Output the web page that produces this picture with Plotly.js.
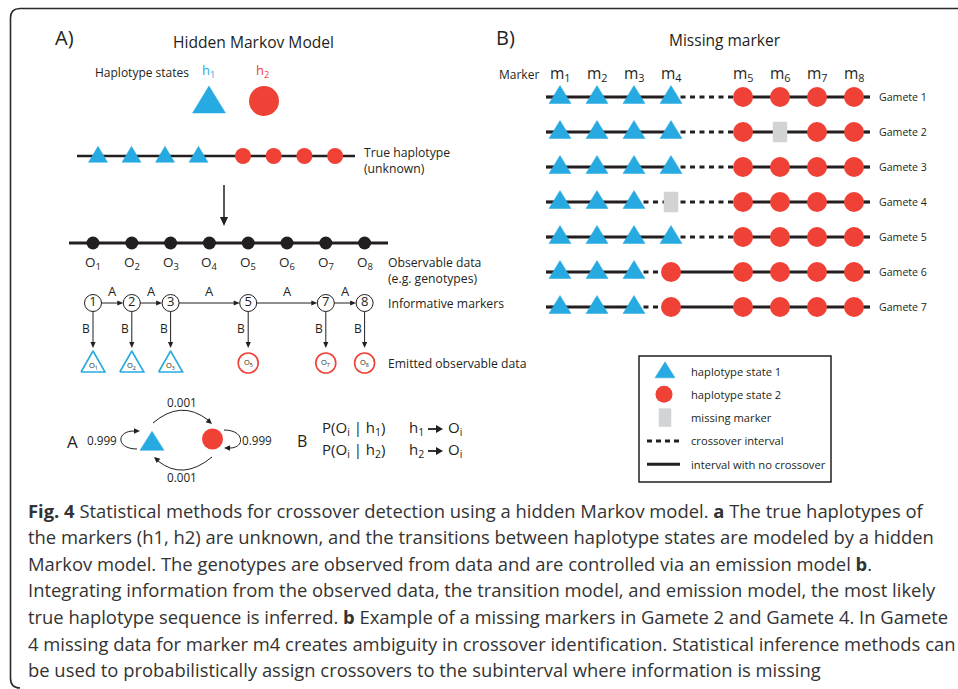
<!DOCTYPE html>
<html><head><meta charset="utf-8">
<script src="https://cdn.plot.ly/plotly-3.0.1.min.js"></script>
<style>html,body{margin:0;padding:0;background:#fff;overflow:hidden}#chart{width:958px;height:689px}</style>
</head><body><div id="chart"></div>
<script>
// ===================== DATA =====================
const hapStateLabels = ['h<sub>1</sub>', 'h<sub>2</sub>'];
const trueHaplotype = [1, 1, 1, 1, 2, 2, 2, 2];
const observedLabels = ['O<sub>1</sub>', 'O<sub>2</sub>', 'O<sub>3</sub>', 'O<sub>4</sub>', 'O<sub>5</sub>', 'O<sub>6</sub>', 'O<sub>7</sub>', 'O<sub>8</sub>'];
const informativeMarkers = [1, 2, 3, 5, 7, 8];
const emittedStates = [1, 1, 1, 2, 2, 2];
const transitionLabel = 'A';
const emissionLabel = 'B';
const pStay = '0.999';
const pSwitch = '0.001';
const emissionProbs = ['P(O<sub>i</sub> | h<sub>1</sub>)', 'P(O<sub>i</sub> | h<sub>2</sub>)'];
const emissionFrom = ['h<sub>1</sub>', 'h<sub>2</sub>'];
const emissionTo = 'O<sub>i</sub>';
const markerLabels = ['m<sub>1</sub>', 'm<sub>2</sub>', 'm<sub>3</sub>', 'm<sub>4</sub>', 'm<sub>5</sub>', 'm<sub>6</sub>', 'm<sub>7</sub>', 'm<sub>8</sub>'];
const gameteLabels = ['Gamete 1', 'Gamete 2', 'Gamete 3', 'Gamete 4', 'Gamete 5', 'Gamete 6', 'Gamete 7'];
// 1 = haplotype state 1, 2 = haplotype state 2, 0 = missing marker
const gamete1 = [1, 1, 1, 1, 2, 2, 2, 2];
const gamete2 = [1, 1, 1, 1, 2, 0, 2, 2];
const gamete3 = [1, 1, 1, 1, 2, 2, 2, 2];
const gamete4 = [1, 1, 1, 0, 2, 2, 2, 2];
const gamete5 = [1, 1, 1, 1, 2, 2, 2, 2];
const gamete6 = [1, 1, 1, 2, 2, 2, 2, 2];
const gamete7 = [1, 1, 1, 2, 2, 2, 2, 2];
const legendLabels = ['haplotype state 1', 'haplotype state 2', 'missing marker', 'crossover interval', 'interval with no crossover'];
const captionLines = [
  '<b>Fig. 4</b> Statistical methods for crossover detection using a hidden Markov model. <b>a</b> The true haplotypes of',
  'the markers (h1, h2) are unknown, and the transitions between haplotype states are modeled by a hidden',
  'Markov model. The genotypes are observed from data and are controlled via an emission model <b>b</b>.',
  'Integrating information from the observed data, the transition model, and emission model, the most likely',
  'true haplotype sequence is inferred. <b>b</b> Example of a missing markers in Gamete 2 and Gamete 4. In Gamete',
  '4 missing data for marker m4 creates ambiguity in crossover identification. Statistical inference methods can',
  'be used to probabilistically assign crossovers to the subinterval where information is missing'
];

// ===================== STYLE / LAYOUT =====================
const BLUE = '#27AAE1', RED = '#EF4136', GREY = '#D1D3D4', INK = '#231F20', CAP = '#333333';
const FONT = 'Open Sans, sans-serif';
const gametes = [gamete1, gamete2, gamete3, gamete4, gamete5, gamete6, gamete7];

const traces = [];
const shapes = [];
const annotations = [];

function txt(x, y, text, size, o) {
  o = o || {};
  annotations.push({
    x: x, y: y, xref: 'x', yref: 'y', text: text, showarrow: false,
    xanchor: o.xa || 'center', yanchor: o.ya || 'middle', align: o.align || 'left',
    font: {family: o.family || FONT, size: size, color: o.color || INK}
  });
}
function arrowHead(tx, ty, dx, dy, len, hw) {
  const L = Math.hypot(dx, dy); dx /= L; dy /= L;
  const bx = tx - dx * len, by = ty - dy * len;
  shapes.push({type: 'path', xref: 'x', yref: 'y', fillcolor: INK, line: {width: 0},
    path: `M${tx},${ty} L${bx - dy * hw},${by + dx * hw} L${bx + dy * hw},${by - dx * hw} Z`});
}
function arrow(x0, y0, x1, y1, w, len, hw) {
  len = len || 6; hw = hw || 2.8;
  const L = Math.hypot(x1 - x0, y1 - y0), dx = (x1 - x0) / L, dy = (y1 - y0) / L;
  shapes.push({type: 'line', xref: 'x', yref: 'y', x0: x0, y0: y0, x1: x1 - dx * (len - 1), y1: y1 - dy * (len - 1),
    line: {color: INK, width: w || 1}});
  arrowHead(x1, y1, dx, dy, len, hw);
}
// polygon builders (return arrays with null separators)
function triPts(cx, cy, w, h, xs, ys) {
  xs.push(cx - w / 2, cx + w / 2, cx, cx - w / 2, null);
  ys.push(cy + h / 3, cy + h / 3, cy - 2 * h / 3, cy + h / 3, null);
}
function rectPts(cx, cy, w, h, xs, ys) {
  xs.push(cx - w / 2, cx + w / 2, cx + w / 2, cx - w / 2, cx - w / 2, null);
  ys.push(cy - h / 2, cy - h / 2, cy + h / 2, cy + h / 2, cy - h / 2, null);
}
function polyTrace(xs, ys, fill, line, lw) {
  traces.push({x: xs, y: ys, mode: 'lines', fill: fill ? 'toself' : 'none', fillcolor: fill || 'rgba(0,0,0,0)',
    line: {color: line || fill, width: lw || 0.5}, hoverinfo: 'skip', connectgaps: false});
}
function circTrace(xs, ys, size, color, lineColor, lw) {
  traces.push({x: xs, y: ys, mode: 'markers', hoverinfo: 'skip',
    marker: {symbol: 'circle', size: size, color: color, line: {color: lineColor || color, width: lw || 0}}});
}
function lineTrace(xs, ys, w, dash) {
  traces.push({x: xs, y: ys, mode: 'lines', hoverinfo: 'skip', connectgaps: false,
    line: {color: INK, width: w, dash: dash || 'solid'}});
}

// ---------------- Panel A ----------------
txt(64, 37, 'A)', 20);
txt(253, 42, 'Hidden Markov Model', 15.6);
txt(93, 72, 'Haplotype states', 12, {xa: 'left'});
txt(208, 71, hapStateLabels[0], 13, {color: BLUE});
txt(262, 71, hapStateLabels[1], 13, {color: RED});
{ const xs = [], ys = []; triPts(209, 104, 33, 27, xs, ys); polyTrace(xs, ys, BLUE); }
circTrace([264], [101], 30, RED);

// true haplotype
const thY = 156;
lineTrace([77, 355], [thY, thY], 2.5);
{
  const tx = [], ty = [], cx = [], cy = [];
  let k1 = 0, k2 = 0;
  trueHaplotype.forEach(s => {
    if (s === 1) { triPts(98 + k1 * 33.5, thY + 1, 19, 16, tx, ty); k1++; }
    else { cx.push(243 + k2 * 30.7); cy.push(thY); k2++; }
  });
  polyTrace(tx, ty, BLUE); circTrace(cx, cy, 16, RED);
}
txt(362, 152, 'True haplotype', 12.2, {xa: 'left'});
txt(362, 168, '(unknown)', 12.2, {xa: 'left'});
arrow(224, 185, 224, 226, 1.5, 9, 4);

// observable data
const oX = i => 93 + i * 38.8;
const oY = 243;
lineTrace([69, 388], [oY, oY], 3);
circTrace(observedLabels.map((_, i) => oX(i)), observedLabels.map(() => oY), 13, INK);
observedLabels.forEach((l, i) => txt(oX(i), 263, l, 13.5));
txt(386, 262, 'Observable data', 12.2, {xa: 'left'});
txt(386, 278, '(e.g. genotypes)', 12.2, {xa: 'left'});

// informative markers
const imY = 303, imR = 8.5;
const imX = informativeMarkers.map(m => oX(m - 1));
informativeMarkers.forEach((m, k) => {
  if (k > 0) {
    arrow(imX[k - 1] + imR, imY, imX[k] - imR, imY, 1, 6, 2.6);
    txt((imX[k - 1] + imX[k]) / 2, 291, transitionLabel, 13);
  }
  arrow(imX[k], imY + imR, imX[k], 348, 1, 6, 2.6);
  txt(imX[k] - 7, 328, emissionLabel, 12);
});
traces.push({x: imX, y: imX.map(() => imY), mode: 'markers+text', hoverinfo: 'skip',
  text: informativeMarkers.map(String), textposition: 'middle center',
  textfont: {family: FONT, size: 13, color: INK},
  marker: {symbol: 'circle', size: 17, color: '#fff', line: {color: INK, width: 1}}});
txt(386, 303, 'Informative markers', 12.2, {xa: 'left'});

// emitted observable data
{
  const tx = [], ty = [], cx = [];
  emittedStates.forEach((s, k) => {
    if (s === 1) triPts(imX[k], 365, 24, 21, tx, ty);
    else cx.push(imX[k]);
    txt(imX[k], s === 1 ? 366 : 363, observedLabels[informativeMarkers[k] - 1], 7.5);
  });
  polyTrace(tx, ty, null, BLUE, 1.6);
  circTrace(cx, cx.map(() => 363), 20, 'rgba(0,0,0,0)', RED, 1.6);
}
txt(386, 363, 'Emitted observable data', 12.2, {xa: 'left'});

// transition diagram
txt(72, 441, transitionLabel, 17);
txt(102, 440, pStay, 11.7);
txt(257, 440, pStay, 11.7);
txt(182, 402, pSwitch, 11.7);
txt(182, 477, pSwitch, 11.7);
{ const xs = [], ys = []; triPts(152, 444, 24, 19, xs, ys); polyTrace(xs, ys, BLUE); }
circTrace([212.5], [439], 21, RED);
const arcStyle = {color: INK, width: 1};
shapes.push({type: 'path', xref: 'x', yref: 'y', line: arcStyle, path: 'M137,449 C116,449 116,431 134,431'});
arrowHead(140, 431, 1, 0, 6, 2.8);
shapes.push({type: 'path', xref: 'x', yref: 'y', line: arcStyle, path: 'M224,430 C245,430 245,448 230,448'});
arrowHead(224, 448, -1, 0, 6, 2.8);
shapes.push({type: 'path', xref: 'x', yref: 'y', line: arcStyle, path: 'M153,423 Q181,399 208,420'});
arrowHead(212, 424, 0.75, 0.66, 6, 2.8);
shapes.push({type: 'path', xref: 'x', yref: 'y', line: arcStyle, path: 'M212,457 Q183,481 158,461'});
arrowHead(154, 457, -0.75, -0.66, 6, 2.8);

// emission model
txt(302, 441, emissionLabel, 16);
emissionProbs.forEach((p, k) => {
  const y = 428 + k * 22;
  txt(320, y, p, 15, {xa: 'left'});
  txt(407, y, emissionFrom[k], 15, {xa: 'left'});
  arrow(428, y + 1, 443, y + 1, 1.8, 7, 4);
  txt(446, y, emissionTo, 15, {xa: 'left'});
});

// ---------------- Panel B ----------------
txt(505, 37, 'B)', 20);
txt(725, 40, 'Missing marker', 15.5);
txt(497, 74, 'Marker', 12, {xa: 'left'});
const mX = i => 560 + i * 37 + (i >= 4 ? 35 : 0);
const gY = g => 97 + g * 35;
markerLabels.forEach((l, i) => txt(mX(i), 73, l, 15.5));

const solidX = [], solidY = [], dashX = [], dashY = [];
const triX = [], triY = [], cirX = [], cirY = [], misX = [], misY = [];
gametes.forEach((g, r) => {
  const y = gY(r);
  const known = (i, step) => { while (i >= 0 && i < g.length && g[i] === 0) i += step; return g[i]; };
  solidX.push(546, mX(0), null); solidY.push(y, y, null);
  for (let i = 0; i < g.length - 1; i++) {
    const crossover = known(i, -1) !== known(i + 1, 1);
    const X = crossover ? dashX : solidX, Y = crossover ? dashY : solidY;
    X.push(mX(i), mX(i + 1), null); Y.push(y, y, null);
  }
  solidX.push(mX(g.length - 1), 870, null); solidY.push(y, y, null);
  g.forEach((s, i) => {
    if (s === 1) triPts(mX(i), y + 0.5, 22, 18, triX, triY);
    else if (s === 2) { cirX.push(mX(i)); cirY.push(y); }
    else rectPts(mX(i), y, 14, 20, misX, misY);
  });
  txt(877, y, gameteLabels[r], 10.6, {xa: 'left'});
});
lineTrace(solidX, solidY, 3.2);
lineTrace(dashX, dashY, 3.2, '5px,4.5px');
polyTrace(triX, triY, BLUE);
circTrace(cirX, cirY, 20, RED);
polyTrace(misX, misY, GREY);

// legend box
shapes.push({type: 'rect', xref: 'x', yref: 'y', x0: 639, x1: 831, y0: 356, y1: 482, line: {color: INK, width: 1.5}});
const legY = k => 371 + k * 23.3;
{ const xs = [], ys = []; triPts(665, legY(0) + 1.5, 20, 16, xs, ys); polyTrace(xs, ys, BLUE); }
circTrace([664], [legY(1)], 17, RED);
{ const xs = [], ys = []; rectPts(665, legY(2), 12, 18, xs, ys); polyTrace(xs, ys, GREY); }
lineTrace([647, 681], [legY(3), legY(3)], 3, '5px,4px');
lineTrace([647, 680], [legY(4), legY(4)], 3);
legendLabels.forEach((l, k) => txt(689, legY(k), l, 11.2, {xa: 'left'}));

// caption
captionLines.forEach((l, k) => txt(26, 510 + k * 26.6, l, 18.4, {xa: 'left', color: CAP}));

// frame
shapes.push({type: 'path', xref: 'x', yref: 'y', line: {color: '#2a2a2a', width: 1.6},
  path: 'M960,8.5 L20,8.5 Q10.5,8.5 10.5,18 L10.5,678 Q10.5,688 20,688'});

const layout = {
  width: 958, height: 689, margin: {l: 0, r: 0, t: 0, b: 0},
  paper_bgcolor: '#fff', plot_bgcolor: '#fff', showlegend: false,
  xaxis: {range: [0, 958], visible: false, fixedrange: true},
  yaxis: {range: [689, 0], visible: false, fixedrange: true},
  shapes: shapes, annotations: annotations
};
Plotly.newPlot('chart', traces, layout, {staticPlot: true, displayModeBar: false});
</script></body></html>
